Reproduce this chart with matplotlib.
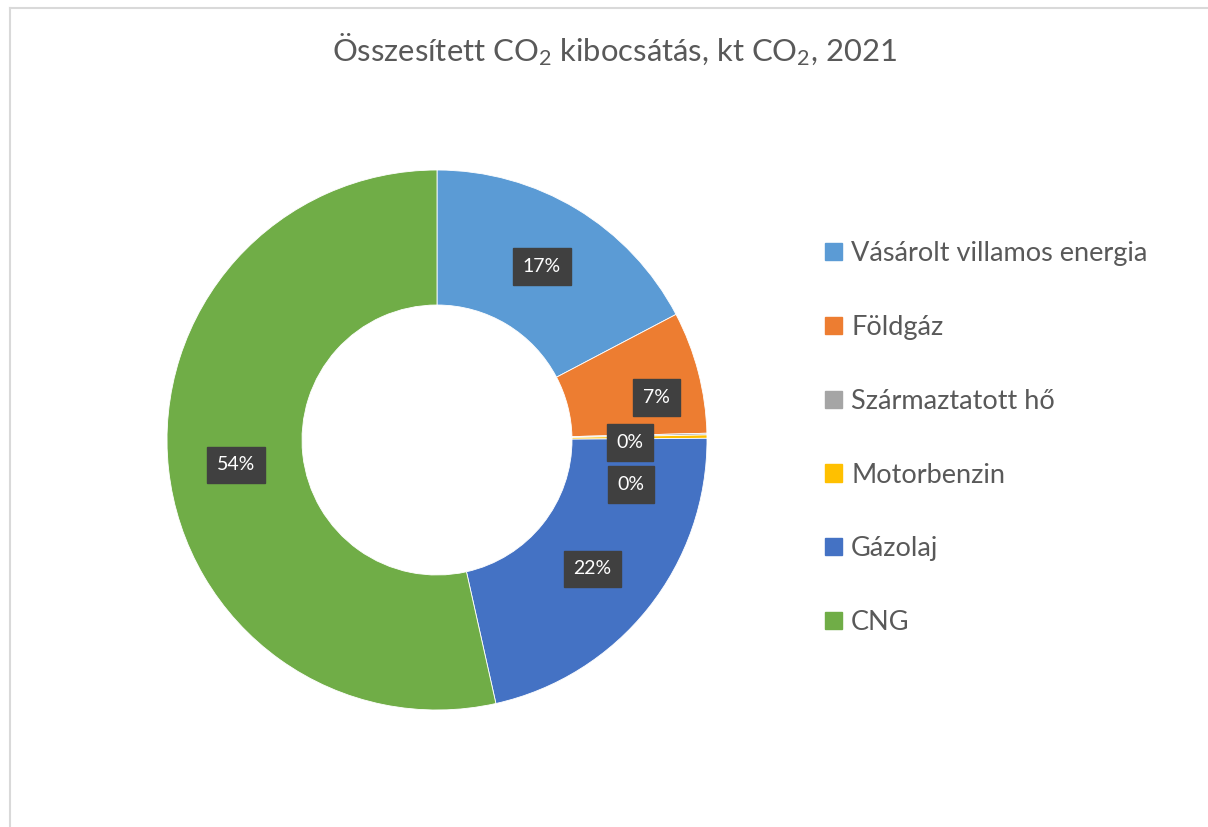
import matplotlib
matplotlib.use("Agg")
import matplotlib.pyplot as plt
from matplotlib.patches import Patch
from matplotlib.lines import Line2D
import numpy as np

categories = ["Vásárolt villamos energia", "Földgáz", "Származtatott hő",
              "Motorbenzin", "Gázolaj", "CNG"]
values = [17.3, 7.3, 0.1, 0.2, 21.6, 53.5]
colors = ["#5B9BD5", "#ED7D31", "#A5A5A5", "#FFC000", "#4472C4", "#70AD47"]
title = r"Összesített CO$_2$ kibocsátás, kt CO$_2$, 2021"

FONT = "Lato"
plt.rcParams["font.family"] = [FONT, "DejaVu Sans"]
plt.rcParams["mathtext.fontset"] = "custom"
plt.rcParams["mathtext.rm"] = FONT
plt.rcParams["mathtext.it"] = FONT

W, H = 1208, 827
fig = plt.figure(figsize=(W / 100, H / 100), dpi=100)

# frame lines (chart area border)
fig.add_artist(Line2D([10 / W, 10 / W], [0, 1 - 8 / H], color="#D9D9D9", lw=1.5))
fig.add_artist(Line2D([10 / W, 1], [1 - 8 / H, 1 - 8 / H], color="#D9D9D9", lw=1.5))

cx, cy, R = 437, 440, 270
ax = fig.add_axes([(cx - R) / W, (H - cy - R) / H, 2 * R / W, 2 * R / H])
wedges, _ = ax.pie(values, colors=colors, startangle=90, counterclock=False,
                   radius=1.0, wedgeprops=dict(width=0.5, edgecolor="white", linewidth=0.6))
ax.set_xlim(-1, 1)
ax.set_ylim(-1, 1)
ax.set_aspect("equal")
ax.axis("off")

# data labels (offsets in points to mimic Excel's collision handling)
label_offsets = [(0, 0), (17, -6), (-7, -5), (-6, -34), (-2, -2), (0, -2)]
total = sum(values)
cum = 0.0
for v, off in zip(values, label_offsets):
    mid = cum + v / 2
    cum += v
    ang = np.deg2rad(90 - 360 * mid / total)
    x, y = 0.75 * np.cos(ang), 0.75 * np.sin(ang)
    pct = int(np.floor(100 * v / total + 0.5))
    ax.annotate(f"{pct}%", (x, y), xytext=off,
                textcoords="offset points", ha="center", va="center",
                fontsize=14, color="white",
                bbox=dict(boxstyle="square,pad=0.5", fc="#404040", ec="#404040"))

fig.text(614 / W, 1 - 50 / H, title, ha="center", va="center",
         fontsize=22.3, color="#595959")

handles = [Patch(facecolor=c, edgecolor=c) for c in colors]
leg = fig.legend(handles, categories, loc="upper left",
                 bbox_to_anchor=(801 / W, 1 - 217 / H), frameon=False,
                 fontsize=19.5, labelspacing=1.8, handlelength=0.6,
                 handleheight=0.6, handletextpad=0.35, labelcolor="#595959")

fig.savefig("out.png", dpi=100, facecolor="white")
